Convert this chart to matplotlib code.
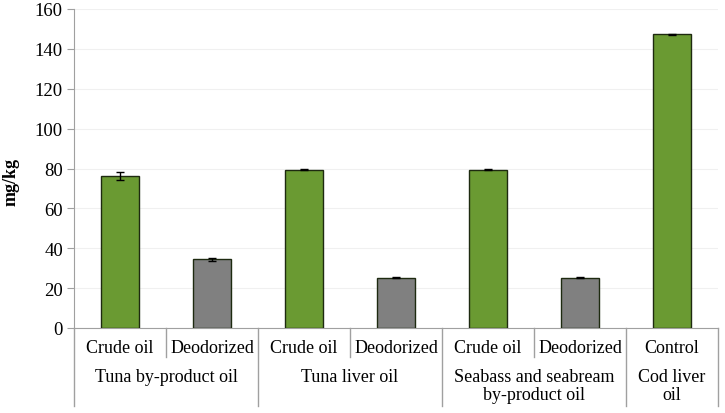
import numpy as np
import matplotlib.pyplot as plt
import matplotlib.transforms as mtransforms

plt.rcParams['font.family'] = ['Liberation Serif', 'DejaVu Serif']

sub_labels = ['Crude oil', 'Deodorized', 'Crude oil', 'Deodorized',
              'Crude oil', 'Deodorized', 'Control']
group_labels = ['Tuna by-product oil', 'Tuna liver oil',
                'Seabass and seabream\nby-product oil', 'Cod liver\noil']
group_sizes = [2, 2, 2, 1]
values = [76, 34.5, 79.3, 25.3, 79.3, 25.3, 147.4]
errors = [2.0, 0.7, 0.2, 0.2, 0.2, 0.2, 0.3]
bar_colors = ['#6a9a32', '#808080', '#6a9a32', '#808080',
              '#6a9a32', '#808080', '#6a9a32']

fig = plt.figure(figsize=(7.25, 4.14), dpi=100)
ax = fig.add_axes([74 / 725, 1 - 329 / 414, 644 / 725, 319 / 414])

x = np.arange(len(values))
ax.bar(x, values, width=0.42, color=bar_colors, edgecolor='#1e2a10',
       linewidth=1.0, zorder=3,
       yerr=errors, error_kw=dict(ecolor='black', elinewidth=1, capsize=3, capthick=1))

ax.set_xlim(-0.5, len(values) - 0.5)
ax.set_ylim(0, 160)
ax.set_yticks(np.arange(0, 161, 20))
ax.tick_params(axis='y', labelsize=13.5, length=5, color='#a0a0a0', pad=3)
ax.set_xticks([])
ax.yaxis.grid(True, color='#f0f0f0', linewidth=0.8, zorder=0)
ax.set_axisbelow(True)
for s in ['top', 'right']:
    ax.spines[s].set_visible(False)
ax.spines['left'].set_color('#a0a0a0')
ax.spines['bottom'].set_color('#a0a0a0')

ax.set_ylabel('mg/kg', fontsize=13, fontweight='bold')
ax.yaxis.set_label_coords(-0.085, 0.46)

trans = mtransforms.blended_transform_factory(ax.transData, ax.transAxes)
line_kw = dict(color='#a0a0a0', linewidth=1, transform=trans, clip_on=False)

# sub-category labels and short dividers
for i, lab in enumerate(sub_labels):
    ax.text(i, -0.06, lab, transform=trans, ha='center', va='center', fontsize=13)

start = 0
for g, n in zip(group_labels, group_sizes):
    left = start - 0.5
    ax.plot([left, left], [0, -0.245], **line_kw)
    if n == 2:
        ax.plot([start + 0.5, start + 0.5], [0, -0.091], **line_kw)
    ax.text(start + (n - 1) / 2, -0.126, g, transform=trans, ha='center', va='top',
            fontsize=13, linespacing=1.1)
    start += n
ax.plot([start - 0.5, start - 0.5], [0, -0.245], **line_kw)

fig.savefig('out.png', dpi=100)
